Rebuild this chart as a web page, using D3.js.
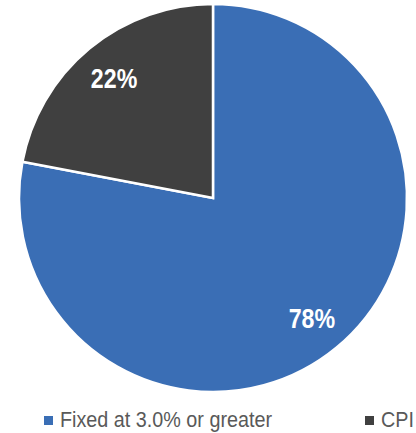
<!DOCTYPE html>
<html>
<head>
<meta charset="utf-8">
<script src="https://cdn.jsdelivr.net/npm/d3@7"></script>
<style>
  body { margin: 0; background: #fff; }
</style>
</head>
<body>
<div class="figure"></div>
<script>
// slice data
var categories = ["Fixed at 3.0% or greater", "CPI"]
var values = [78, 22]
var colors = ["#3a6eb5", "#404040"]

var dim = { w: 416, h: 433 }
var pieConfig = { cx: 213, cy: 198, r: 194, labelR: 0.8 }

var svg = d3.select("div.figure")
    .append("svg")
    .attr("width", dim.w)
    .attr("height", dim.h)

var dataset = categories.map(function(c, i) {
    return { name: c, value: values[i], color: colors[i] }
})

var pie = d3.pie()
    .sort(null)
    .value(function(d) { return d.value })

var arc = d3.arc()
    .innerRadius(0)
    .outerRadius(pieConfig.r)

var labelArc = d3.arc()
    .innerRadius(pieConfig.r * pieConfig.labelR)
    .outerRadius(pieConfig.r * pieConfig.labelR)

var g = svg.append("g")
    .attr("transform", "translate(" + pieConfig.cx + "," + pieConfig.cy + ")")

var arcs = pie(dataset)

g.selectAll("path")
    .data(arcs)
    .enter()
    .append("path")
    .attr("d", arc)
    .attr("fill", function(d) { return d.data.color })
    .attr("stroke", "#fff")
    .attr("stroke-width", 2.5)

g.selectAll("text.pct")
    .data(arcs)
    .enter()
    .append("text")
    .attr("class", "pct")
    .attr("transform", function(d) {
        var c = labelArc.centroid(d)
        return "translate(" + c[0] + "," + (c[1] + 10) + ") scale(0.86,1)"
    })
    .attr("text-anchor", "middle")
    .style("font-family", "'Liberation Sans', Arial, sans-serif")
    .style("font-weight", "bold")
    .style("font-size", "27px")
    .attr("fill", "#fff")
    .text(function(d) { return d.data.value + "%" })

// legend
var legendX = [44, 365]
var legend = svg.append("g")
    .selectAll("g")
    .data(dataset)
    .enter()
    .append("g")
    .attr("transform", function(d, i) { return "translate(" + legendX[i] + ",416)" })

legend.append("rect")
    .attr("width", 9)
    .attr("height", 9)
    .attr("fill", function(d) { return d.color })

legend.append("text")
    .attr("transform", "translate(16,10.5) scale(0.92,1)")
    .style("font-family", "'Liberation Sans', Arial, sans-serif")
    .style("font-size", "21.5px")
    .attr("fill", "#595959")
    .text(function(d) { return d.name })
</script>
</body>
</html>
